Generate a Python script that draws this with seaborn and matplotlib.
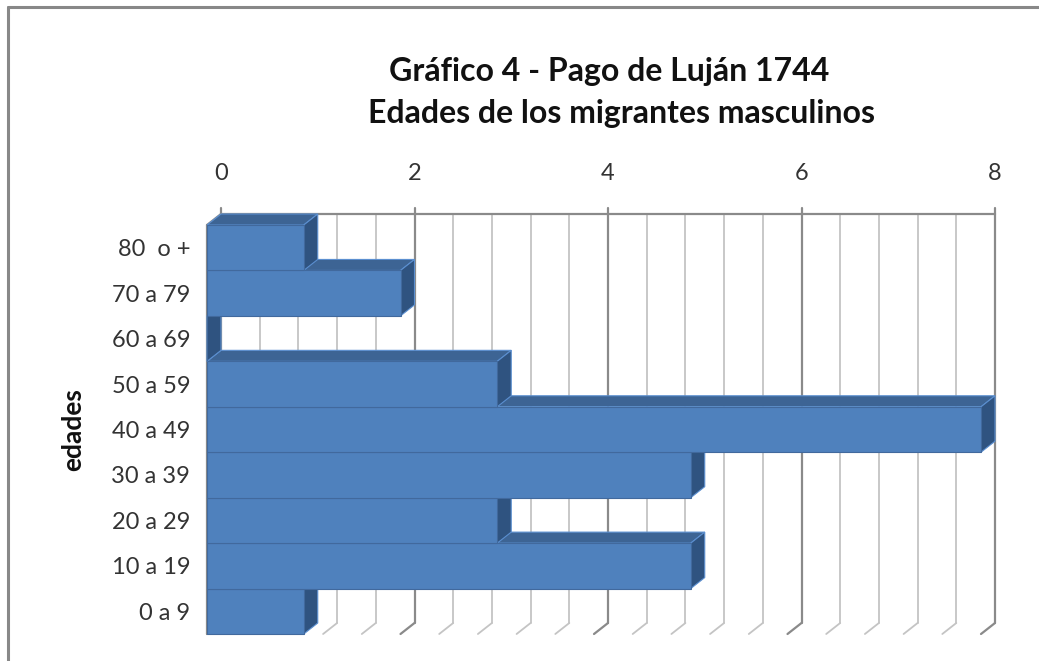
import numpy as np
import pandas as pd
import matplotlib
matplotlib.use("Agg")
import matplotlib.pyplot as plt
import seaborn as sns
from matplotlib.patches import Polygon
from matplotlib.lines import Line2D
from matplotlib.transforms import IdentityTransform

# ---- data (top to bottom as drawn) ----
categories = ["80  o +", "70 a 79", "60 a 69", "50 a 59", "40 a 49",
              "30 a 39", "20 a 29", "10 a 19", "0 a 9"]
counts = [1, 2, 0, 3, 8, 5, 3, 5, 1]
x_ticks = [0, 2, 4, 6, 8]
title_lines = ["Gráfico 4 - Pago de Luján 1744", "Edades de los migrantes masculinos"]
y_label = "edades"

sns.set_theme(style="white")
plt.rcParams["font.family"] = ["Lato", "DejaVu Sans"]

W, H = 1039, 661
fig = plt.figure(figsize=(W / 100, H / 100), dpi=100)
fig.patch.set_facecolor("white")
ax = fig.add_axes([207 / W, 1 - 634 / H, (981 - 207) / W, (634 - 225) / H])

df = pd.DataFrame({"edad": categories, "n": counts})
FRONT = "#4f81bd"
TOP = "#3d6494"
SIDE = "#2f5380"
sns.barplot(data=df, x="n", y="edad", order=categories, orient="h", width=1.0,
            color=FRONT, saturation=1, ax=ax, edgecolor="#41699d", linewidth=0.8)

ax.set_xlim(0, 8)
ax.set_ylim(len(categories) - 0.5, -0.5)
for s in ax.spines.values():
    s.set_visible(False)
ax.set_xticks([])
ax.set_xlabel("")
ax.set_ylabel("")
ax.tick_params(axis="y", length=0, pad=12, labelsize=17, labelcolor="#333333")
ax.patch.set_alpha(0)

DX, DY = 14, 11
n = len(categories)
ytop, ybot = -0.5, n - 0.5


def front(x, y):
    return ax.transData.transform((x, y))


def back(x, y):
    p = ax.transData.transform((x, y))
    return p + np.array([DX, DY])


ident = IdentityTransform()

# back wall gridlines and floor lines
for k, gx in enumerate(np.arange(0, 8.001, 0.4)):
    major = abs(gx / 2 - round(gx / 2)) < 1e-6
    col = "#8a8a8a" if major else "#c4c4c4"
    lw = 1.6 if major else 1.3
    p1, p2 = back(gx, ytop), back(gx, ybot)
    fig.add_artist(Line2D([p1[0], p2[0]], [p1[1], p2[1]], color=col, lw=lw,
                          transform=ident, zorder=0.5))
    p3 = front(gx, ybot)
    fig.add_artist(Line2D([p2[0], p3[0]], [p2[1], p3[1]], color=col, lw=lw,
                          transform=ident, zorder=0.5))

# top axis line on back wall with ticks
p1, p2 = back(0, ytop), back(8, ytop)
fig.add_artist(Line2D([p1[0], p2[0]], [p1[1], p2[1]], color="#8a8a8a", lw=1.6,
                      transform=ident, zorder=0.6))
for t in x_ticks:
    p = back(t, ytop)
    fig.add_artist(Line2D([p[0], p[0]], [p[1], p[1] + 6], color="#8a8a8a", lw=1.6,
                          transform=ident, zorder=0.6))
    fig.text(p[0] / W, (p[1] + 41) / H, str(t), ha="center", va="center",
             fontsize=17, color="#333333")

# left wall line (front) + top-left diagonal
a, b = front(0, ytop), front(0, ybot)
fig.add_artist(Line2D([a[0], b[0]], [a[1], b[1]], color="#8a8a8a", lw=1.6,
                      transform=ident, zorder=0.6))
c = back(0, ytop)
fig.add_artist(Line2D([a[0], c[0]], [a[1], c[1]], color="#8a8a8a", lw=1.6,
                      transform=ident, zorder=0.6))

# 3D faces; bars lower on screen drawn first
bars = ax.patches
for i, (cat, v) in enumerate(zip(categories, counts)):
    z = 2 + (n - i) * 2
    y0, y1 = i - 0.5, i + 0.5
    top = [front(0, y0), back(0, y0), back(v, y0), front(v, y0)]
    side = [front(v, y0), back(v, y0), back(v, y1), front(v, y1)]
    fig.add_artist(Polygon(top, closed=True, facecolor=TOP, edgecolor="#5b8fd0",
                           lw=0.8, transform=ident, zorder=z))
    fig.add_artist(Polygon(side, closed=True, facecolor=SIDE, edgecolor="#5b8fd0",
                           lw=0.8, transform=ident, zorder=z))

for i, bar in enumerate(bars):
    yc = bar.get_y() + bar.get_height() / 2
    idx = int(round(yc))
    bar.remove()
    x0, y0 = bar.get_x(), bar.get_y()
    w, h = bar.get_width(), bar.get_height()
    pts = [front(x0, y0), front(x0 + w, y0), front(x0 + w, y0 + h), front(x0, y0 + h)]
    fig.add_artist(Polygon(pts, closed=True, facecolor=FRONT, edgecolor="#41699d",
                           lw=0.8, transform=ident, zorder=3 + (n - idx) * 2))

# titles
fig.text(609 / W, 1 - 72 / H, title_lines[0], ha="center", va="center",
         fontsize=23, fontweight="bold", color="#111111")
fig.text(622 / W, 1 - 113 / H, title_lines[1], ha="center", va="center",
         fontsize=23, fontweight="bold", color="#111111")
fig.text(73 / W, 1 - 430 / H, y_label, rotation=90, ha="center", va="center",
         fontsize=19, fontweight="bold", color="#111111")

# chart frame (left and top)
fig.add_artist(Line2D([8 / W, 8 / W], [0, 1 - 7 / H], color="#888888", lw=2.2,
                      transform=fig.transFigure))
fig.add_artist(Line2D([8 / W, 1], [1 - 7 / H, 1 - 7 / H], color="#888888", lw=2.2,
                      transform=fig.transFigure))

fig.savefig("out.png", dpi=100)
